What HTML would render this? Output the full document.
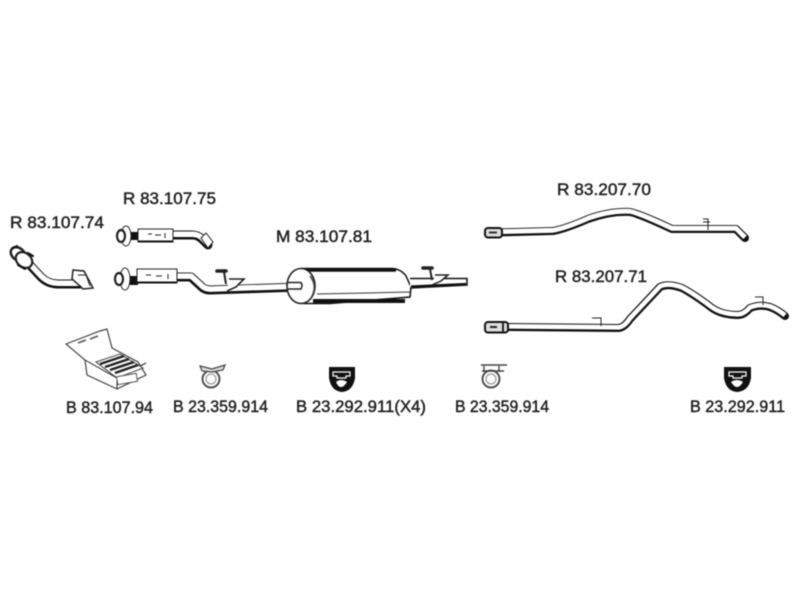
<!DOCTYPE html>
<html><head><meta charset="utf-8"><style>
html,body{margin:0;padding:0;background:#fff}
svg{display:block;filter:blur(.4px)}
text{font-family:"Liberation Sans",sans-serif;font-size:16.5px;fill:#222;stroke:#222;stroke-width:.45px}
.o{fill:none;stroke:#111;stroke-linecap:round;stroke-linejoin:round}
.i{fill:none;stroke:#fff;stroke-linecap:butt;stroke-linejoin:round}
.t{fill:#fff;stroke:#222;stroke-width:1}
.s{fill:none;stroke:#222;stroke-width:1}
.k{fill:#111}
</style></head><body>
<svg width="800" height="600" viewBox="0 0 800 600" xmlns="http://www.w3.org/2000/svg">
<rect width="800" height="600" fill="#fff"/>

<text x="10" y="228" textLength="94" lengthAdjust="spacingAndGlyphs">R 83.107.74</text>
<text x="123" y="204" textLength="93" lengthAdjust="spacingAndGlyphs">R 83.107.75</text>
<text x="276" y="242" textLength="96" lengthAdjust="spacingAndGlyphs">M 83.107.81</text>
<text x="557" y="195" textLength="94" lengthAdjust="spacingAndGlyphs">R 83.207.70</text>
<text x="555" y="282" textLength="92" lengthAdjust="spacingAndGlyphs">R 83.207.71</text>
<text x="66" y="413" textLength="87" lengthAdjust="spacingAndGlyphs">B 83.107.94</text>
<text x="173" y="412" textLength="95" lengthAdjust="spacingAndGlyphs">B 23.359.914</text>
<text x="296" y="412" textLength="130" lengthAdjust="spacingAndGlyphs">B 23.292.911(X4)</text>
<text x="455" y="412" textLength="94" lengthAdjust="spacingAndGlyphs">B 23.359.914</text>
<text x="690" y="412" textLength="95" lengthAdjust="spacingAndGlyphs">B 23.292.911</text>

<!-- R 83.107.74 -->
<path class="o" stroke-width="9" d="M28 263L41 277Q48 284 58 284L84 284"/>
<path class="i" stroke-width="5.500" transform="translate(.3 -.8)" d="M28 263L41 277Q48 284 58 284L84 284"/>
<path d="M73 270L84 271L93 288L83 289L80 286L72 279Z" fill="#fff" stroke="#222" stroke-width="1.500"/>
<path d="M78 275L86 275L90 286" class="s"/>
<ellipse cx="18" cy="254" rx="8" ry="6" transform="rotate(40 18 254)" fill="#fff" stroke="#222" stroke-width="2.500"/>
<ellipse cx="24" cy="260" rx="9" ry="7" transform="rotate(40 24 260)" fill="#fff" stroke="#222" stroke-width="2.200"/>
<path d="M13 248L17 246M28 253L33 256M18 265L25 269" class="o" stroke-width="2"/>

<!-- R 83.107.75 -->
<path class="o" stroke-width="9" d="M173 235L192 235Q198 235 202 239L208 245"/>
<path class="i" stroke-width="5.500" transform="translate(.3 -.8)" d="M173 235L192 235Q198 235 202 239L208 245"/>
<path d="M201 238L206 233L213 242L208 248Z" class="t" stroke-width="1.400"/>
<rect x="131" y="232" width="8" height="8" class="k"/>
<rect x="138" y="229" width="35" height="13" class="t" stroke-width="1.600"/>
<path d="M138 241.500H173" stroke="#111" stroke-width="2"/>
<path d="M148 234h4M155 235h6M165 233v5" class="s" stroke="#888"/>
<ellipse cx="126" cy="236" rx="5" ry="10" class="t" stroke-width="1.600"/>
<ellipse cx="121" cy="236" rx="4" ry="6" fill="#fff" stroke="#222" stroke-width="2.200"/>

<!-- M left pipe -->
<path class="o" stroke-width="9" d="M177 277L191 277L203 288Q206 290 210 290L300 287"/>
<path class="i" stroke-width="5.500" transform="translate(.3 -.9)" d="M177 277L191 277L203 288Q206 290 210 290L300 287"/>
<rect x="130" y="276" width="8" height="9" class="k"/>
<rect x="137" y="269" width="40" height="14" class="t" stroke-width="1.600"/>
<path d="M137 282.500H177" stroke="#111" stroke-width="2"/>
<path d="M146 275h5M156 276h6M168 274v5" class="s" stroke="#888"/>
<ellipse cx="125" cy="279" rx="5" ry="11" class="t" stroke-width="1.600"/>
<ellipse cx="119" cy="279" rx="4" ry="6" fill="#fff" stroke="#222" stroke-width="2.200"/>
<!-- left bracket -->
<path d="M217 271h9" stroke="#222" stroke-width="3.500" stroke-linecap="round"/>
<path d="M224 272L226 284" stroke="#222" stroke-width="2"/>
<path d="M229 279H244L236 287L227 291" fill="#fff" stroke="#222" stroke-width="1.600"/>

<!-- muffler -->
<path d="M301 268.500H392Q401 269 406 276L411 287L410 297L330 303.500H304Z" fill="#fff" stroke="#111" stroke-width="1.500"/>
<path d="M306 270H396" stroke="#111" stroke-width="3.500"/>
<path d="M313 301H405" stroke="#111" stroke-width="4"/>
<path d="M317 294L410 292" stroke="#333" stroke-width="1"/>
<ellipse cx="301" cy="286" rx="14" ry="17.500" fill="#fff" stroke="#222" stroke-width="1.600"/>
<path d="M310 276Q318 286 311 298" fill="none" stroke="#444" stroke-width="1.500"/>
<path d="M288 282.500H301Q303 285 301 289H288" fill="#fff" stroke="#222" stroke-width="1.500"/>

<!-- M right pipe -->
<path d="M410 278.500H467V285L410 288" fill="#fff" stroke="#111" stroke-width="1.500"/>
<path d="M411 286.500L466 284" stroke="#111" stroke-width="2.200"/>
<path d="M423 268h9" stroke="#222" stroke-width="3.500" stroke-linecap="round"/>
<path d="M430 269L432 280" stroke="#222" stroke-width="2"/>
<path d="M435 275H448L441 281L432 285" fill="#fff" stroke="#222" stroke-width="1.500"/>

<!-- R 83.207.70 -->
<path class="o" stroke-width="8" d="M495 232.500L553 231Q565 229 588 219Q610 211 630 212Q640 214 672 229L736 229L745 238"/>
<path class="i" stroke-width="4.800" transform="translate(0 -.7)" d="M495 232.500L553 231Q565 229 588 219Q610 211 630 212Q640 214 672 229L736 229L745 238"/>
<rect x="485" y="228" width="17" height="9.500" rx="3" fill="#ddd" stroke="#111" stroke-width="2"/>
<path d="M489 232.500h8" stroke="#333" stroke-width="2"/>
<path d="M703 219h5v11M703 222h7" class="s" stroke-width="1.500"/>

<!-- R 83.207.71 -->
<path class="o" stroke-width="8" d="M508 327L618 328Q624 328 630 319L660 287Q668 283 682 288Q695 295 712 308Q722 315 738 315Q744 315 750 308Q760 304 770 307Q778 310 785 316"/>
<path class="i" stroke-width="4.600" transform="translate(0 -.7)" d="M508 327L618 328Q624 328 630 319L660 287Q668 283 682 288Q695 295 712 308Q722 315 738 315Q744 315 750 308Q760 304 770 307Q778 310 785 316"/>
<rect x="485" y="322" width="23" height="10.500" rx="3" fill="#ddd" stroke="#111" stroke-width="2"/>
<path d="M490 327h7M503 322v10" stroke="#222" stroke-width="2"/>
<path d="M592 318h9v8" class="s" stroke-width="1.700"/>
<path d="M755 297h8v8" class="s" stroke-width="1.500"/>

<!-- kit box -->
<path d="M66 344L100 331L107 329L112 348L138 362L146 375L117 389L87 375L85 360L66 344Z" fill="#fff" stroke="#444" stroke-width="1.200"/>
<path d="M85 360L117 378L146 363M117 378V389" class="s" stroke="#444"/>
<path d="M96 362L120 354L143 368L117 378Z" fill="#fff" stroke="#444"/>
<path d="M100 364L124 356M105 367L129 359M110 370L134 362M115 373L138 365" stroke="#222" stroke-width="2.500"/>
<rect x="117" y="375" width="20" height="8" fill="#fff" stroke="#555" transform="rotate(-10 127 379)"/>
<path d="M78 343l8-3M90 339l8-3" stroke="#555" stroke-width="1.500"/>

<!-- clamps -->
<circle cx="211" cy="379" r="8.500" fill="#fff" stroke="#555" stroke-width="2"/>
<circle cx="211" cy="379" r="5" fill="#fff" stroke="#888" stroke-width="1"/>
<path d="M200 366L212 369L225 365L223 370L212 372L202 371Z" fill="#ddd" stroke="#444" stroke-width="1.200"/>
<circle cx="491" cy="379" r="8.500" fill="#fff" stroke="#555" stroke-width="2"/>
<circle cx="491" cy="379" r="5" fill="#fff" stroke="#888" stroke-width="1"/>
<path d="M481 365H507M484 366V372M499 366V372M482 371H504" fill="none" stroke="#444" stroke-width="1.400"/>

<!-- mounts -->
<path d="M329 367H355V378Q353 391 342 392Q331 391 329 378Z" fill="#111"/>
<path d="M333 372H350V376H346V378H337V376H333Z" fill="none" stroke="#fff" stroke-width="1.200"/>
<path d="M336 382Q341 378 347 382Q344 387 341 387Q338 387 336 382Z" fill="#fff"/>
<path d="M724 367H751V378Q749 391 737 392Q726 391 724 378Z" fill="#111"/>
<path d="M729 372H746V376H742V378H733V376H729Z" fill="none" stroke="#fff" stroke-width="1.200"/>
<path d="M731 382Q737 378 743 382Q740 387 737 387Q734 387 731 382Z" fill="#fff"/>
</svg>
</body></html>
